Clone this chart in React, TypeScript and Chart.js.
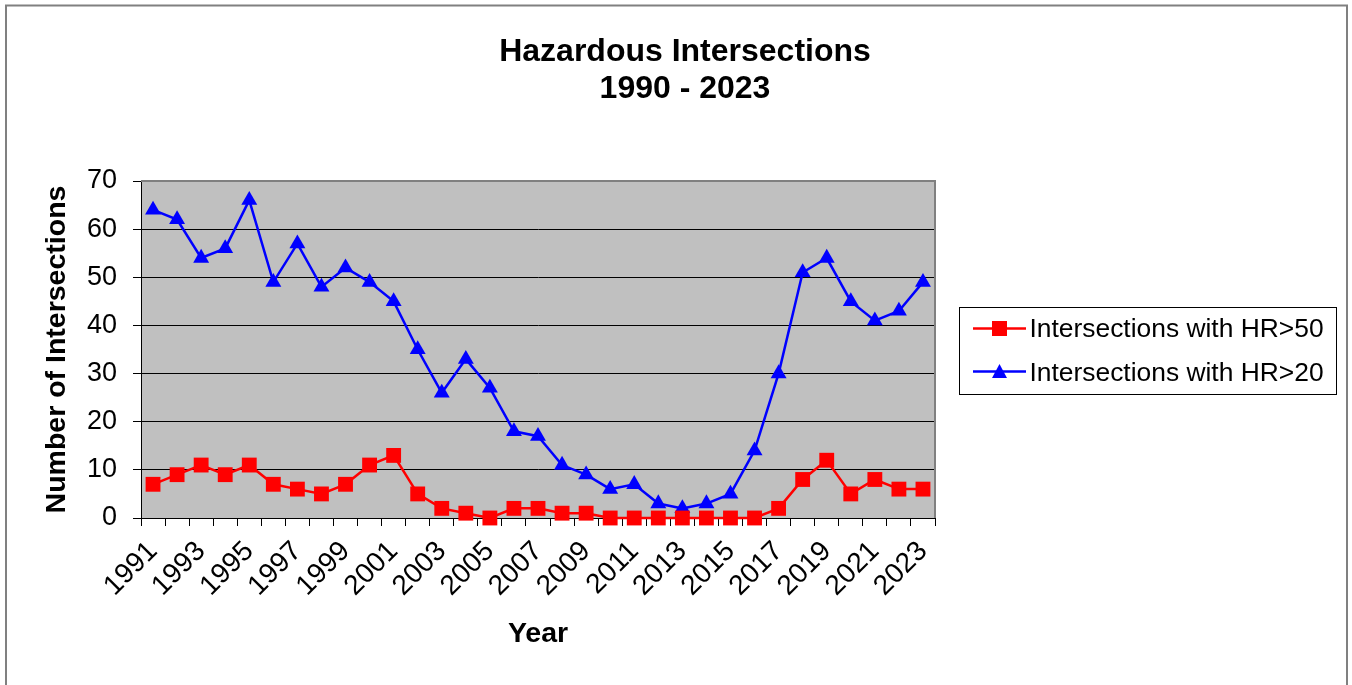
import React, { useEffect, useRef } from 'react';
import { Chart, registerables } from 'chart.js';

Chart.register(...registerables);

const FONT = "'Liberation Sans', Arial, Helvetica, sans-serif";

const years = [
  '1991', '1992', '1993', '1994', '1995', '1996', '1997', '1998', '1999', '2000',
  '2001', '2002', '2003', '2004', '2005', '2006', '2007', '2008', '2009', '2010',
  '2011', '2012', '2013', '2014', '2015', '2016', '2017', '2018', '2019', '2020',
  '2021', '2022', '2023',
];

const hr50 = [
  7, 9, 11, 9, 11, 7, 6, 5, 7, 11,
  13, 5, 2, 1, 0, 2, 2, 1, 1, 0,
  0, 0, 0, 0, 0, 0, 2, 8, 12, 5,
  8, 6, 6,
];

const hr20 = [
  64, 62, 54, 56, 66, 49, 57, 48, 52, 49,
  45, 35, 26, 33, 27, 18, 17, 11, 9, 6,
  7, 3, 2, 3, 5, 14, 30, 51, 54, 45,
  41, 43, 49,
];

const titleLines = ['Hazardous Intersections', '1990 - 2023'];
const yTicks = { min: 0, max: 70, step: 10 };

function drawMarker(ctx: CanvasRenderingContext2D, style: string, x: number, y: number, color: string) {
  ctx.fillStyle = color;
  if (style === 'rect') {
    ctx.fillRect(x - 7.5, y - 7.5, 15, 15);
  } else {
    ctx.beginPath();
    ctx.moveTo(x, y - 7.5);
    ctx.lineTo(x + 7.5, y + 6.5);
    ctx.lineTo(x - 7.5, y + 6.5);
    ctx.closePath();
    ctx.fill();
  }
}

const decorPlugin = {
  id: 'decor',
  beforeDraw(chart: any) {
    const { ctx, chartArea: a } = chart;
    ctx.save();
    ctx.fillStyle = '#ffffff';
    ctx.fillRect(0, 0, chart.width, chart.height);
    ctx.fillStyle = '#C0C0C0';
    ctx.fillRect(a.left, a.top, a.right - a.left, a.bottom - a.top);
    ctx.strokeStyle = '#808080';
    ctx.lineWidth = 2;
    ctx.strokeRect(6, 5.5, 1341, 720);
    ctx.restore();
  },
  beforeDatasetsDraw(chart: any) {
    const { ctx, chartArea: a } = chart;
    ctx.save();
    ctx.strokeStyle = '#808080';
    ctx.lineWidth = 2;
    ctx.beginPath();
    ctx.moveTo(a.left, a.top);
    ctx.lineTo(a.right, a.top);
    ctx.lineTo(a.right, a.bottom);
    ctx.stroke();
    ctx.restore();
  },
  afterDraw(chart: any) {
    const { ctx } = chart;
    ctx.save();
    ctx.strokeStyle = '#000';
    ctx.lineWidth = 1;
    ctx.strokeRect(959.5, 307.5, 377, 87);
    const rows = [
      { ds: chart.data.datasets[0], y: 328.5, base: 337 },
      { ds: chart.data.datasets[1], y: 371.5, base: 380.5 },
    ];
    rows.forEach((r) => {
      ctx.strokeStyle = r.ds.borderColor;
      ctx.lineWidth = 2.5;
      ctx.beginPath();
      ctx.moveTo(973, r.y);
      ctx.lineTo(1026, r.y);
      ctx.stroke();
      drawMarker(ctx, r.ds.pointStyle, 999.5, r.y, r.ds.borderColor);
      ctx.fillStyle = '#000';
      ctx.font = `26.4px ${FONT}`;
      ctx.textAlign = 'left';
      ctx.textBaseline = 'alphabetic';
      ctx.fillText(r.ds.label, 1029.5, r.base);
    });
    ctx.restore();
  },
};

export default function App() {
  const ref = useRef<HTMLCanvasElement>(null);

  useEffect(() => {
    if (!ref.current) return;
    const chart = new Chart(ref.current, {
      type: 'line',
      data: {
        labels: years,
        datasets: [
          {
            label: 'Intersections with HR>50',
            data: hr50,
            borderColor: '#FF0000',
            backgroundColor: '#FF0000',
            pointBackgroundColor: '#FF0000',
            pointBorderColor: '#FF0000',
            pointStyle: 'rect',
            pointRadius: 10.5,
            pointBorderWidth: 0,
            borderWidth: 2.5,
            tension: 0,
            clip: false as any,
          },
          {
            label: 'Intersections with HR>20',
            data: hr20,
            borderColor: '#0000FF',
            backgroundColor: '#0000FF',
            pointBackgroundColor: '#0000FF',
            pointBorderColor: '#0000FF',
            pointStyle: 'triangle',
            pointRadius: 9.2,
            pointBorderWidth: 0,
            borderWidth: 2.5,
            tension: 0,
            clip: false as any,
          },
        ],
      },
      options: {
        responsive: false,
        animation: false,
        devicePixelRatio: 1,
        layout: { padding: { left: 18, top: 0, right: 0, bottom: 0 } },
        plugins: {
          legend: { display: false },
          tooltip: { enabled: false },
          title: {
            display: true,
            text: titleLines,
            color: '#000',
            font: { family: FONT, size: 32, weight: 'bold', lineHeight: 1.15 },
            padding: { top: 34, bottom: 73.4 },
          },
        },
        scales: {
          x: {
            type: 'category',
            offset: true,
            grid: {
              offset: true,
              drawOnChartArea: false,
              drawTicks: true,
              tickLength: 8,
              color: '#000',
            },
            border: { display: true, color: '#000', width: 1 },
            ticks: {
              autoSkip: false,
              maxRotation: 45,
              minRotation: 45,
              color: '#000',
              padding: 9,
              font: { family: FONT, size: 28 },
              callback: function (this: any, v: any, i: number) {
                return i % 2 === 0 ? this.getLabelForValue(v) : '';
              },
            },
            title: {
              display: true,
              text: 'Year',
              color: '#000',
              font: { family: FONT, size: 28.5, weight: 'bold', lineHeight: 1.2 },
              padding: { top: 0, bottom: 34 },
            },
            afterFit: (s: any) => {
              s.height = 167;
            },
          },
          y: {
            min: yTicks.min,
            max: yTicks.max,
            ticks: {
              stepSize: yTicks.step,
              color: '#000',
              padding: 16,
              font: { family: FONT, size: 27 },
            },
            grid: { color: '#000', lineWidth: 1, tickLength: 8, drawTicks: true },
            border: { display: true, color: '#000', width: 1 },
            title: {
              display: true,
              text: 'Number of Intersections',
              color: '#000',
              font: { family: FONT, size: 28.5, weight: 'bold', lineHeight: 1.2 },
              padding: { top: 22, bottom: 0 },
            },
            afterFit: (s: any) => {
              s.width = 123;
            },
          },
          yR: {
            position: 'right',
            display: true,
            min: yTicks.min,
            max: yTicks.max,
            grid: { display: false, drawOnChartArea: false },
            border: { display: false },
            ticks: { display: false },
            afterFit: (s: any) => {
              s.width = 417;
            },
          },
        },
      },
      plugins: [decorPlugin],
    } as any);
    return () => chart.destroy();
  }, []);

  return (
    <div style={{ position: 'absolute', left: 0, top: 0, width: 1352, height: 685, background: '#fff' }}>
      <canvas ref={ref} width={1352} height={685} style={{ display: 'block' }} />
    </div>
  );
}
